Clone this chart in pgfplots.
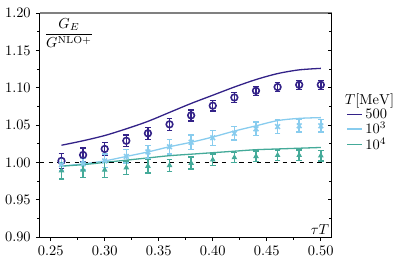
\documentclass[border=0pt]{standalone}
\usepackage{pgfplots}
\pgfplotsset{compat=1.18}
\definecolor{cA}{HTML}{332288}
\definecolor{cB}{HTML}{88CCEE}
\definecolor{cC}{HTML}{44AA99}
\begin{document}
\begin{tikzpicture}
\begin{axis}[name=main,
  scale only axis, width=202pt, height=155pt,
  xmin=0.24, xmax=0.51, ymin=0.90, ymax=1.20,
  axis x line*=bottom, axis y line*=left,
  axis line style={-, line width=0.7pt},
  xtick={0.25,0.30,...,0.50}, ytick={0.90,0.95,...,1.20},
  minor x tick num=1, minor y tick num=1,
  tick align=outside,
  major tick length=2.8pt, minor tick length=1.8pt,
  tick style={black, line width=0.6pt},
  xticklabel style={/pgf/number format/.cd, fixed, fixed zerofill, precision=2},
  yticklabel style={/pgf/number format/.cd, fixed, fixed zerofill, precision=2},
  clip=false,
  legend style={at={(rel axis cs:1.05,0.51)}, anchor=west, draw=none, fill=none,
    row sep=-2.8pt, font=\normalsize, inner sep=0pt},
  legend cell align=left,
  legend image code/.code={\draw[#1] (0cm,0cm) -- (0.36cm,0cm);},
  error bars/error bar style={line width=1pt},
  error bars/error mark options={rotate=90, mark size=2pt, line width=1pt},
]
\addlegendimage{empty legend}
\addlegendentry{\hspace*{-0.5cm}$T[\mathrm{MeV}]$}

\addplot[cA, line width=0.9pt, smooth, mark=none] coordinates {
(0.26,1.023) (0.28,1.029) (0.30,1.036) (0.32,1.045) (0.34,1.055) (0.36,1.067)
(0.38,1.079) (0.40,1.090) (0.42,1.101) (0.44,1.111) (0.46,1.119) (0.48,1.124) (0.50,1.126)};
\addlegendentry{$500$}
\addplot[cB, line width=0.9pt, smooth, mark=none] coordinates {
(0.26,0.995) (0.28,0.998) (0.30,1.002) (0.32,1.008) (0.34,1.014) (0.36,1.021)
(0.38,1.027) (0.40,1.034) (0.42,1.042) (0.44,1.049) (0.46,1.056) (0.48,1.059) (0.50,1.060)};
\addlegendentry{$10^3$}
\addplot[cC, line width=0.9pt, smooth, mark=none] coordinates {
(0.26,0.995) (0.28,0.997) (0.30,1.000) (0.32,1.003) (0.34,1.006) (0.36,1.009)
(0.38,1.011) (0.40,1.013) (0.42,1.015) (0.44,1.017) (0.46,1.018) (0.48,1.019) (0.50,1.020)};
\addlegendentry{$10^4$}

\addplot[black, dashed, line width=0.6pt, forget plot] coordinates {(0.24,1.0) (0.51,1.0)};

\addplot[cA, only marks, mark=o, mark size=2.3pt, mark options={line width=1.1pt}, forget plot,
  error bars/.cd, y dir=both, y explicit] coordinates {
(0.26,1.002) +- (0,0.010)
(0.28,1.010) +- (0,0.009)
(0.30,1.018) +- (0,0.009)
(0.32,1.029) +- (0,0.008)
(0.34,1.039) +- (0,0.008)
(0.36,1.051) +- (0,0.008)
(0.38,1.063) +- (0,0.0075)
(0.40,1.076) +- (0,0.007)
(0.42,1.087) +- (0,0.007)
(0.44,1.096) +- (0,0.006)
(0.46,1.101) +- (0,0.006)
(0.48,1.104) +- (0,0.006)
(0.50,1.104) +- (0,0.006)};

\addplot[cB, only marks, mark=x, mark size=2.3pt, mark options={line width=1.1pt}, forget plot,
  error bars/.cd, y dir=both, y explicit] coordinates {
(0.26,0.997) +- (0,0.008)
(0.28,0.998) +- (0,0.008)
(0.30,1.002) +- (0,0.009)
(0.32,1.008) +- (0,0.009)
(0.34,1.014) +- (0,0.009)
(0.36,1.021) +- (0,0.010)
(0.38,1.027) +- (0,0.010)
(0.40,1.033) +- (0,0.010)
(0.42,1.039) +- (0,0.009)
(0.44,1.045) +- (0,0.009)
(0.46,1.048) +- (0,0.009)
(0.48,1.049) +- (0,0.0085)
(0.50,1.049) +- (0,0.0085)};

\addplot[cC, only marks, mark=triangle*, mark size=1.7pt, mark options={line width=0.6pt}, forget plot,
  error bars/.cd, y dir=both, y explicit] coordinates {
(0.26,0.989) +- (0,0.011)
(0.28,0.990) +- (0,0.010)
(0.30,0.990) +- (0,0.010)
(0.32,0.993) +- (0,0.009)
(0.34,0.995) +- (0,0.009)
(0.36,0.996) +- (0,0.008)
(0.38,0.999) +- (0,0.008)
(0.40,1.0035) +- (0,0.008)
(0.42,1.0065) +- (0,0.007)
(0.44,1.008) +- (0,0.007)
(0.46,1.0095) +- (0,0.007)
(0.48,1.0095) +- (0,0.007)
(0.50,1.009) +- (0,0.007)};

\draw[gray, line width=1.4pt] (rel axis cs:0,1) -- (rel axis cs:1,1);
\node[anchor=north west, inner sep=1pt] at (rel axis cs:0.01,0.985) {$\displaystyle\frac{G_E}{G^{\mathrm{NLO+}}}$};
\node[anchor=south east, inner sep=1.5pt] at (rel axis cs:1,0.0) {$\tau T$};
\end{axis}
\begin{axis}[
  scale only axis, width=202pt, height=155pt,
  xmin=0.24, xmax=0.51, ymin=0.90, ymax=1.20,
  axis y line*=right, axis x line=none,
  axis line style={-, line width=0.7pt},
  ytick={0.90,0.95,...,1.20}, minor y tick num=1,
  yticklabels={}, tick align=inside,
  major tick length=2.8pt, minor tick length=1.8pt,
  tick style={black, line width=0.6pt},
]
\end{axis}
\path (main.south west) ++(-27.6pt,-17.9pt) rectangle ++(274pt,182pt);
\end{tikzpicture}
\end{document}
